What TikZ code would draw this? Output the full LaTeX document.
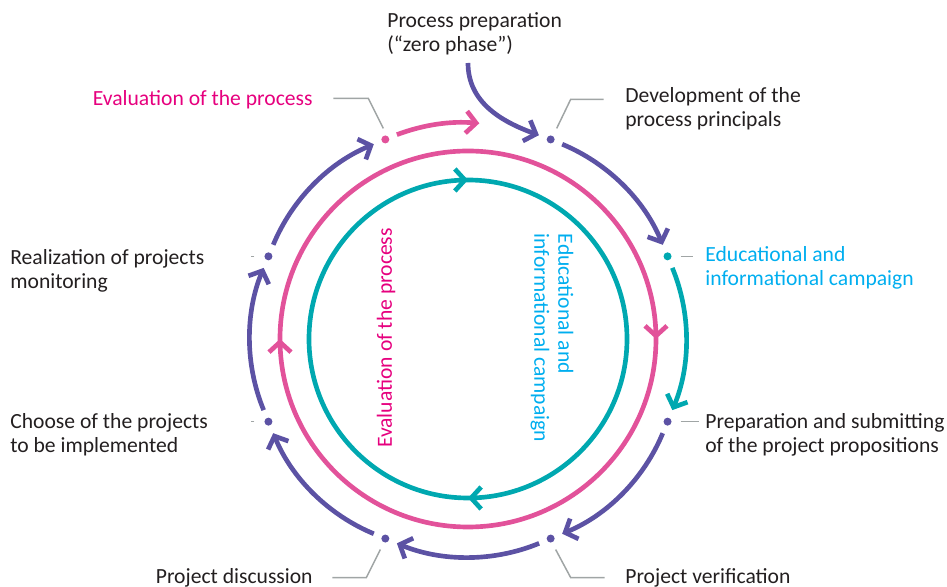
\documentclass[tikz,border=0pt]{standalone}
\usepackage{fontspec}
\setmainfont{Carlito}
\usetikzlibrary{arrows.meta,decorations.markings}
\definecolor{ringviolet}{RGB}{92,82,164}
\definecolor{ringpink}{RGB}{226,82,154}
\definecolor{ringteal}{RGB}{0,168,176}
\definecolor{textpink}{RGB}{230,0,126}
\definecolor{textblue}{RGB}{0,174,239}
\definecolor{textgray}{RGB}{35,31,32}
\definecolor{leadgray}{RGB}{160,165,165}

\begin{document}
\begin{tikzpicture}[>={Straight Barb[length=0.2cm,width=0.44cm]},x=0.02cm,y=0.02cm,
    every node/.style={font=\fontsize{12.3}{13.6}\selectfont,text=textgray,inner sep=0pt}]
            \useasboundingbox (-468,-248) rectangle (479,339);
            \tikzset{
                flow/.style={line width=2.65pt,draw=ringviolet,->},
                ring/.style={line width=2.65pt,postaction={decorate},decoration={markings,
                    mark=at position 0.25 with {\arrow{>}},
                    mark=at position 0.75 with {\arrow{>}}}},
                leader/.style={draw=leadgray,line width=0.85pt}
            }
            \begin{scope}[every node/.style={circle,fill=ringviolet,minimum size=0.16cm,inner sep=0pt,outer sep=0.17cm}]
                \node (1) at (67.5:216) {};
                \node[fill=ringteal] (2) at (22.5:216) {};
                \node (3) at (-22.5:216) {};
                \node (4) at (-67.5:216) {};
                \node (5) at (-112.5:216) {};
                \node (6) at (-157.5:216) {};
                \node (7) at (157.5:216) {};
                \node[fill=ringpink] (8) at (112.5:216) {};
            \end{scope}
            \coordinate (0) at (0,276);
            \coordinate (9) at (87:216);

            \draw[ring,ringpink] (90:188) arc[start angle=90,end angle=-270,radius=188];
            \draw[ring,ringteal] (180:159) arc[start angle=180,end angle=-180,radius=159];

            \draw[flow] (0) to[out=-90,in=160] (1);
            \path[bend left=22.5,looseness=0.88]
                (1) edge[flow] (2)
                (2) edge[flow,draw=ringteal] (3)
                (3) edge[flow] (4)
                (4) edge[flow] (5)
                (5) edge[flow] (6)
                (6) edge[flow] (7)
                (7) edge[flow] (8);
            \draw[flow,draw=ringpink,bend left=12.75,looseness=0.88] (8) to (9);

            \node[anchor=west,align=left] (l0) at (-81,305) {Process preparation\\(“zero phase”)};
            \node[anchor=west,align=left] (l1) at (157,230) {Development of the\\process principals};
            \node[anchor=west,align=left,text=textblue] (l2) at (237,71) {Educational and\\informational campaign};
            \node[anchor=west,align=left] (l3) at (237,-96) {Preparation and submitting\\of the project propositions};
            \node[anchor=west] (l4) at (157,-239) {Project verification};
            \node[anchor=east] (l5) at (-155,-239) {Project discussion};
            \node[anchor=west,align=left] (l6) at (-458,-96) {Choose of the projects\\to be implemented};
            \node[anchor=west,align=left] (l7) at (-458,68) {Realization of projects\\monitoring};
            \node[anchor=east,text=textpink] (l8) at (-155,239) {Evaluation of the process};
            \node[rotate=90,text=textpink] (c1) at (-82,1) {Evaluation of the process};
            \node[rotate=-90,align=left,text=textblue] (c2) at (84,1) {Educational and\\informational campaign};

            \draw[leader] ([shift={(6,11)}]1.center) -- ++(14,29) -- ++(33,0);
            \draw[leader] ([shift={(13,0)}]2.center) -- ++(12,0);
            \draw[leader] ([shift={(13,0)}]3.center) -- ++(18,0);
            \draw[leader] ([shift={(5,-11)}]4.center) -- ++(15,-28) -- ++(34,0);
            \draw[leader] ([shift={(-5,-11)}]5.center) -- ++(-14,-28) -- ++(-34,0);
            \draw[leader] ([shift={(-14,0)}]6.center) -- ++(-3,0);
            \draw[leader] ([shift={(-14,0)}]7.center) -- ++(-3,0);
            \draw[leader] ([shift={(-2,11)}]8.center) -- ++(-15,30) -- ++(-35,0);
        \end{tikzpicture}
\end{document}
